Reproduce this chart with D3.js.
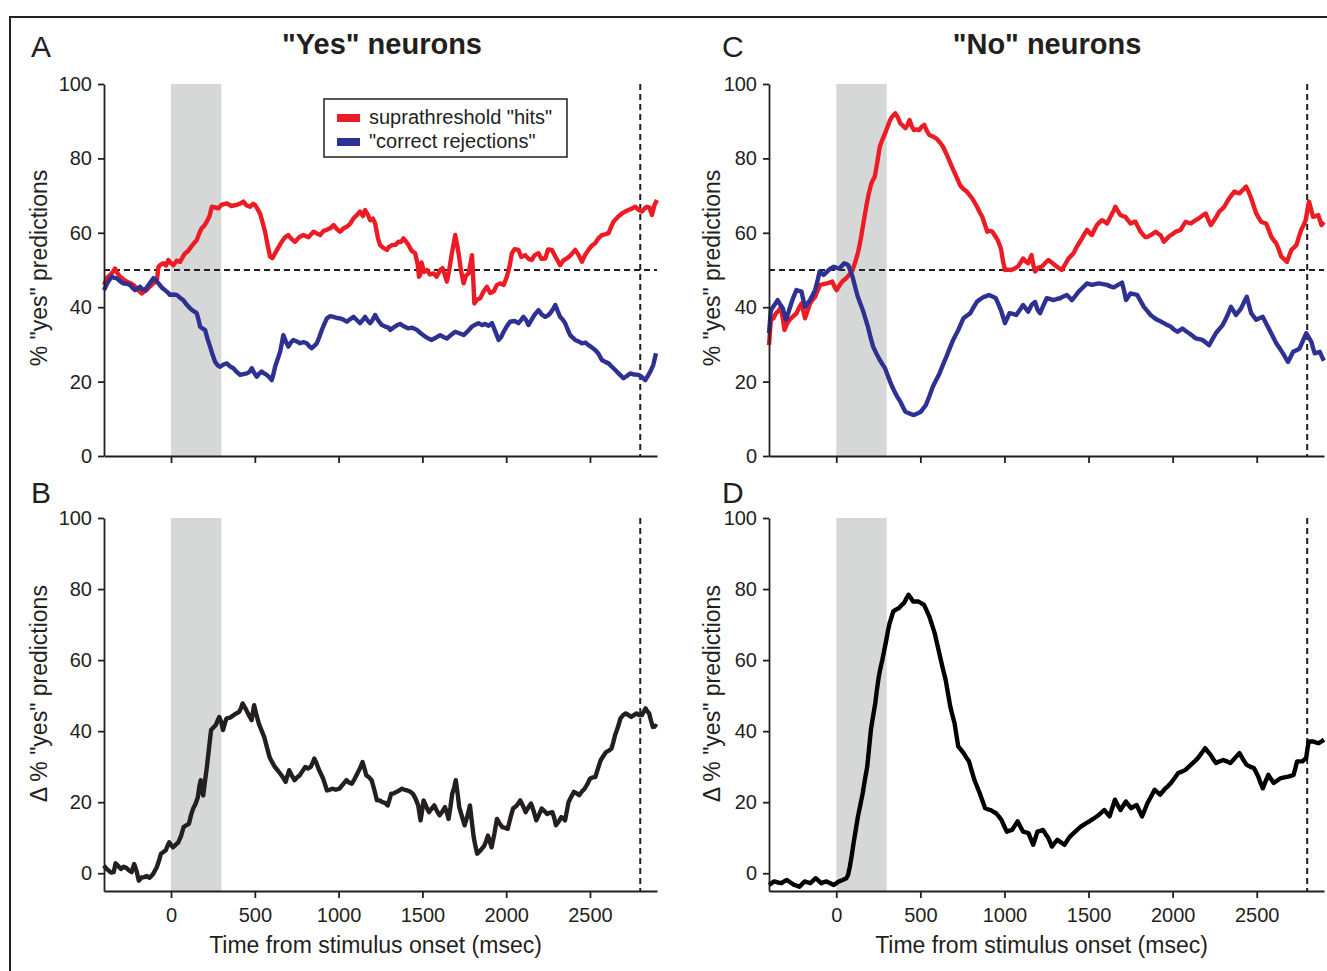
<!DOCTYPE html>
<html>
<head>
<meta charset="utf-8">
<script src="https://cdn.jsdelivr.net/npm/d3@7"></script>
<style>
	body { margin: 0; background: #fff; }
	svg { display: block; font-family: "Liberation Sans", Arial, sans-serif; }
	.axis path, .axis line { stroke: #231f20; stroke-width: 1.8px; }
	.axis text { fill: #231f20; font-size: 20px; font-family: "Liberation Sans", Arial, sans-serif; }
</style>
</head>
<body>
<svg id="fig" width="1327" height="971"></svg>
<script>
const timeTicks = [0, 500, 1000, 1500, 2000, 2500]
const pctTicks = [0, 20, 40, 60, 80, 100]
const stimWindow = [0, 300]
const responseTime = 2800
const chanceLevel = 50
const seriesNames = ['suprathreshold "hits"', '"correct rejections"']

// "Yes" neurons, % "yes" predictions  [time ms, value]
const yesHits = [[-400,46],[-380,48],[-355,49],[-334,50.4],[-318,49],[-304,48.2],[-285,47.5],[-265,46.9],[-245,46.5],[-225,46],[-200,44.8],[-175,43.7],[-160,44.2],[-145,44.6],[-125,45.6],[-107,46.4],[-85,47],[-75,50.9],[-60,51.5],[-46,51.8],[-30,51.2],[-16,52.7],[0,51.8],[14,51.3],[34,52.5],[54,52.2],[70,53.5],[84,54.5],[100,55],[113,55.8],[133,57],[153,58],[170,60],[183,61.2],[200,62],[213,63],[230,64.5],[243,67],[263,66.8],[283,66.6],[300,67.5],[333,67.9],[360,67.2],[392,67.5],[410,67.8],[432,68.4],[450,67.4],[472,67],[490,67.8],[501,67.5],[515,66.5],[531,65.2],[545,63],[561,60.3],[575,57],[591,53.6],[605,53.2],[621,54.5],[640,56],[661,57.6],[680,58.8],[700,59.4],[720,58.3],[740,57.6],[765,58.8],[790,59.4],[820,58.8],[850,60.3],[870,59.8],[890,59.4],[910,60.5],[930,60.8],[950,61.2],[970,62.1],[990,61],[1009,60.3],[1030,61.2],[1049,61.6],[1070,62.5],[1089,63.9],[1110,64.8],[1128,65.7],[1145,64.5],[1158,66.1],[1175,64.8],[1188,63.4],[1205,63.8],[1218,62.5],[1235,58.5],[1248,56.7],[1265,56],[1288,55.4],[1300,56.2],[1318,56.7],[1340,56.8],[1357,57.6],[1372,57.5],[1387,58.5],[1400,57.8],[1417,56.7],[1435,55.2],[1457,54.5],[1472,51.5],[1480,48.2],[1487,48.7],[1495,52],[1510,49.5],[1527,50],[1545,48.8],[1567,49.1],[1585,48.2],[1606,50],[1620,50.5],[1635,48.5],[1646,46.9],[1660,50],[1676,54.5],[1688,57.5],[1696,59.4],[1706,57],[1716,54.5],[1730,50],[1746,46.4],[1760,48.5],[1776,49.1],[1788,52],[1796,54],[1803,48],[1810,41],[1825,42],[1845,42.4],[1865,44.2],[1885,45.5],[1905,43.8],[1925,44.2],[1945,46],[1964,46.4],[1985,46],[2004,48.2],[2020,51],[2034,54.5],[2050,55.6],[2073,55.4],[2090,53.5],[2113,54],[2133,53],[2153,52.7],[2170,54],[2193,54.5],[2210,53],[2233,53.1],[2250,55.5],[2273,55.4],[2295,53.5],[2322,51.3],[2340,52.5],[2362,53.1],[2385,54],[2412,55.4],[2430,54.2],[2452,52.2],[2470,54],[2491,55.4],[2510,56.5],[2531,57.2],[2550,58.5],[2571,59.4],[2590,59.6],[2611,59.9],[2625,61.5],[2641,63],[2665,64.2],[2691,65.2],[2710,65.7],[2730,66.1],[2750,66.5],[2770,67],[2790,66.2],[2810,65.7],[2825,66.5],[2840,67],[2855,66.8],[2870,64.8],[2885,67.5],[2900,68.8]]

const yesRejections = [[-400,44.6],[-380,46.5],[-355,48.2],[-340,47.9],[-325,47.8],[-305,47],[-285,46.4],[-265,46.3],[-245,46],[-230,45.2],[-215,44.6],[-200,45],[-185,45.5],[-170,44.8],[-155,44.6],[-130,46.2],[-105,47.8],[-90,47.2],[-75,46.4],[-55,45.3],[-36,44.6],[-20,44],[-6,43.3],[14,43.4],[34,43.3],[55,42.5],[73,41.9],[93,40.7],[113,39.7],[133,39],[153,38.4],[165,36.5],[173,34.8],[190,34.2],[203,33.9],[218,31.5],[233,29.4],[248,27.2],[263,25.3],[280,24.3],[293,24],[313,24.6],[333,24.9],[352,24.1],[372,23.6],[392,22.6],[412,21.8],[432,22],[452,22.2],[468,22.6],[482,23.6],[497,22.3],[512,21.3],[527,22.2],[541,22.7],[556,22.2],[571,21.8],[586,21.2],[601,20.4],[611,22],[621,24],[636,26],[651,28],[662,30.5],[670,32.5],[685,30.8],[700,29.4],[715,30.5],[730,31.2],[750,30.8],[770,30.3],[790,30.6],[810,30.3],[825,29.5],[840,29],[855,29.6],[870,30.3],[885,32],[900,33.9],[915,35.5],[930,37],[950,37.6],[970,37.4],[990,37.1],[1009,37],[1030,36.6],[1049,36.1],[1070,36.8],[1089,37.4],[1110,36.5],[1128,35.7],[1143,36.5],[1158,37.4],[1173,36.4],[1188,35.7],[1203,36.6],[1218,37.9],[1238,36.3],[1258,35.2],[1278,34.8],[1298,34.5],[1308,33.9],[1330,34.6],[1350,35.2],[1367,35.5],[1392,34.8],[1417,34.3],[1440,34.5],[1467,33.9],[1490,33],[1516,32.1],[1536,31.6],[1556,31.2],[1580,31.8],[1606,32.5],[1626,32],[1646,31.6],[1670,32.5],[1696,33.4],[1720,33],[1746,32.5],[1770,33.5],[1796,34.8],[1815,35.3],[1835,35.7],[1855,35.2],[1875,35.5],[1895,35],[1915,35.7],[1935,33.5],[1955,31.2],[1970,32],[1985,33.4],[2005,35],[2024,36.1],[2050,36.3],[2073,35.7],[2088,36.5],[2103,37.4],[2118,36.6],[2133,35.2],[2150,36.5],[2170,38],[2193,39.2],[2213,38],[2233,37.4],[2250,37.8],[2263,38.4],[2280,39.5],[2293,40.6],[2307,39],[2322,37.4],[2337,36.7],[2352,35.7],[2367,34],[2382,32.5],[2397,31.8],[2412,31.2],[2432,30.8],[2452,30.3],[2472,30.5],[2491,29.8],[2511,29.2],[2531,28.5],[2551,27.5],[2571,25.8],[2591,25.3],[2611,24.9],[2631,24],[2651,23.1],[2675,22],[2700,20.9],[2720,21.5],[2740,22.2],[2765,21.9],[2790,21.8],[2810,21.2],[2830,20.4],[2845,21.5],[2860,22.7],[2878,24.5],[2894,27.6]]

// "Yes" neurons, difference hits - correct rejections
const yesDelta = [[-400,2.2],[-390,1.5],[-374,0.8],[-358,0.2],[-342,0.3],[-331,2.8],[-315,2],[-299,1.2],[-283,1.8],[-267,1.5],[-251,0.8],[-235,0.3],[-220,2.6],[-205,0.5],[-192,-2.1],[-176,-1.2],[-160,-1.1],[-144,-0.8],[-128,-1.3],[-107,-0.2],[-85,1.7],[-72,3.5],[-60,5.5],[-45,6],[-32,6.4],[-20,7.8],[-11,8.7],[0,8],[11,7.3],[27,8],[43,8.7],[60,10.5],[75,13],[91,13.5],[107,13.9],[120,16.5],[132,18.2],[146,19.5],[160,21.4],[169,24.5],[177,26.2],[185,23],[192,21.9],[203,26],[214,29.9],[226,35],[239,40.3],[253,41],[267,41.7],[278,43],[288,44],[300,42.5],[310,40.3],[320,42],[331,43.6],[352,43.8],[374,44.5],[390,45],[406,45.4],[418,46.5],[427,47.8],[443,46.5],[459,45],[470,44],[481,43.1],[489,45.5],[496,47.3],[510,44.5],[524,42.1],[540,40.2],[556,38.4],[572,35.5],[588,32.7],[604,31.2],[620,29.9],[636,29],[652,28],[668,27],[684,25.7],[695,27.5],[705,29],[721,27.5],[737,26.2],[753,27],[769,27.6],[785,28.8],[801,29.9],[817,29.5],[833,29.9],[845,31],[855,32.3],[868,31],[880,29.4],[894,28],[908,26.6],[919,25],[930,23.3],[946,23.5],[962,23.8],[983,23.5],[1004,23.8],[1026,25],[1047,26.2],[1063,25.5],[1079,25.2],[1095,26.5],[1111,28],[1127,29.5],[1143,31.3],[1154,29.5],[1165,27.6],[1181,27],[1197,26.2],[1213,23.5],[1229,20.5],[1245,20.5],[1261,20],[1277,19.8],[1293,19.1],[1304,20.8],[1314,22.4],[1330,22.5],[1346,22.9],[1362,23.3],[1378,23.8],[1394,23.5],[1410,23.3],[1426,23],[1443,22.4],[1459,21],[1475,19.1],[1482,17],[1489,14.9],[1498,17.5],[1507,20.5],[1523,18.8],[1539,17.2],[1555,18.2],[1571,19.1],[1587,17.5],[1603,16.3],[1619,17.4],[1635,18.6],[1646,17],[1656,15.3],[1667,18.5],[1678,22.4],[1689,24],[1699,26.2],[1710,22.5],[1720,18.6],[1736,16],[1752,13.5],[1768,16],[1784,19.1],[1795,14.5],[1806,10.2],[1817,7.5],[1827,5.5],[1848,6.5],[1870,7.8],[1880,9],[1891,10.6],[1902,9],[1913,7.3],[1929,11],[1945,15.3],[1961,14],[1977,13],[1993,12.8],[2009,12.5],[2025,15.5],[2041,18.2],[2062,19],[2084,20.5],[2100,19],[2116,17.2],[2132,18.5],[2148,19.6],[2164,17.5],[2180,14.9],[2196,16.5],[2212,18.2],[2228,17.5],[2244,16.7],[2260,17],[2276,17.2],[2287,15.5],[2297,13.5],[2313,14.5],[2329,15.8],[2340,15.5],[2351,14.9],[2362,17.5],[2372,20],[2388,21.5],[2404,22.9],[2420,22.5],[2436,22],[2452,23],[2468,23.8],[2484,25],[2500,26.6],[2516,27],[2532,27.1],[2548,29.5],[2564,31.8],[2580,33],[2596,34.1],[2612,34.5],[2628,35.1],[2640,37],[2650,38.9],[2666,41],[2682,43.6],[2698,44.5],[2714,45],[2730,44.5],[2746,44],[2762,44.5],[2778,45],[2794,44.5],[2810,44.5],[2821,45.5],[2832,46.4],[2843,45.5],[2853,45],[2864,43],[2875,41.2],[2890,41.5],[2900,41.2]]

// "No" neurons, % "yes" predictions
const noHits = [[-400,29.8],[-389,36.6],[-374,37],[-359,38.3],[-344,39],[-328,40.1],[-318,37],[-308,33.9],[-293,35.5],[-278,36.6],[-258,37.5],[-237,38.3],[-222,39.8],[-207,41],[-196,39],[-186,37],[-171,39],[-156,41],[-141,42],[-126,42.8],[-110,44.5],[-95,46],[-75,46.2],[-55,46.4],[-40,46.6],[-24,46.9],[-10,45.5],[2,44.6],[18,45.8],[36,46.9],[52,47.5],[67,48.2],[82,49],[97,50],[112,52],[128,54.5],[138,56.5],[148,59],[163,63],[178,67],[193,70.5],[209,73.3],[219,74.3],[229,75.1],[244,79],[259,83.2],[274,85],[290,86.7],[305,88.5],[320,90.3],[335,91.4],[351,92.1],[366,91],[381,89.4],[396,88.8],[411,88.1],[424,89],[436,90.3],[450,88.5],[462,87.6],[478,87.8],[493,87.6],[508,88.5],[523,89],[538,87.5],[553,86.3],[574,85.9],[594,85.4],[614,84.4],[634,83.2],[655,81.2],[675,79.1],[690,77.5],[705,76],[720,74.5],[736,72.8],[756,71.8],[776,71.1],[792,70.2],[807,69.3],[822,68.2],[837,67],[852,65.6],[868,64.3],[883,62.3],[898,60.3],[913,60.5],[928,60.3],[944,59.2],[959,58.1],[969,57],[979,55.8],[991,52.5],[1003,50],[1020,50.1],[1040,50],[1060,50.4],[1080,50.9],[1096,52],[1111,53.1],[1126,52.3],[1141,51.8],[1151,53],[1161,54],[1171,51.5],[1182,49.6],[1200,50.6],[1222,50.9],[1241,51.8],[1261,52.7],[1281,52],[1301,51.3],[1321,50.6],[1341,50],[1361,51.5],[1381,53.1],[1396,53.8],[1411,54.5],[1431,56.3],[1446,57.4],[1461,58.5],[1476,59.7],[1491,60.8],[1505,60],[1520,59.4],[1535,60.8],[1550,62.1],[1565,62.8],[1580,63.4],[1595,63],[1610,62.5],[1625,63.8],[1640,65.2],[1650,66],[1660,67],[1675,65.8],[1689,64.8],[1704,64.5],[1719,64.3],[1734,63.4],[1749,62.5],[1764,62.8],[1779,63],[1794,61.6],[1809,60.3],[1824,59.5],[1839,58.8],[1854,59],[1869,59.4],[1884,59.8],[1899,60.3],[1913,59.8],[1928,59.4],[1938,58.5],[1948,57.6],[1963,58.3],[1978,59],[1998,59.6],[2018,60.3],[2033,60.5],[2048,60.8],[2063,62],[2078,63],[2093,62.7],[2108,62.5],[2123,63],[2138,63.4],[2153,63.8],[2168,64.3],[2183,64.8],[2197,65.2],[2212,63.5],[2227,62.1],[2237,62.7],[2247,63.4],[2262,64.5],[2277,65.7],[2292,66.3],[2307,67],[2322,68.2],[2337,69.3],[2352,70.2],[2367,71.1],[2382,70.8],[2397,70.6],[2417,71.5],[2437,72.4],[2452,71],[2467,69.3],[2482,67.2],[2497,65.2],[2512,64],[2526,63],[2541,62.7],[2556,62.5],[2571,60.8],[2586,59],[2601,58],[2616,57.2],[2631,55.5],[2646,53.6],[2663,52.9],[2680,52.2],[2693,53.8],[2706,55.4],[2721,56],[2736,56.7],[2750,58.8],[2765,60.8],[2778,62],[2791,63.4],[2801,66],[2811,68.4],[2823,66.3],[2835,64.3],[2850,64.5],[2865,64.8],[2875,63.5],[2885,62.1],[2900,62.9]]

const noRejections = [[-400,33],[-389,39.2],[-369,40.5],[-349,41.9],[-334,40.8],[-318,39.7],[-308,38],[-298,36.6],[-283,38.8],[-268,41],[-252,43],[-237,44.6],[-222,44.4],[-207,44.2],[-196,42],[-186,40.1],[-171,41],[-156,41.9],[-141,43.2],[-126,44.6],[-112,47],[-99,49.6],[-87,49.2],[-75,48.7],[-60,49.3],[-45,50],[-30,50.5],[-14,50.9],[1,50.6],[16,50.4],[31,51],[47,51.8],[59,51.6],[71,51.3],[84,49.8],[97,48.2],[112,45.5],[128,42.8],[143,41],[158,39.2],[173,37],[188,34.8],[203,32],[219,29.4],[239,27.5],[259,25.8],[274,24.7],[290,23.6],[305,21.8],[320,20],[335,18.4],[351,16.9],[366,15.7],[381,14.6],[396,13.2],[411,11.9],[436,11.4],[462,11],[482,11.4],[503,11.9],[518,12.8],[533,13.7],[553,16],[574,18.6],[594,20.4],[614,22.2],[634,24.5],[655,26.7],[675,29],[695,31.2],[710,32.5],[726,33.9],[741,35.5],[756,37],[776,37.7],[797,38.4],[817,40],[837,41.5],[858,42.2],[878,42.8],[893,43],[908,43.3],[928,42.9],[949,42.4],[964,40.8],[979,39.2],[991,37.5],[1003,35.7],[1016,37],[1030,38.4],[1050,38.2],[1070,37.9],[1090,39.2],[1111,40.6],[1126,39.7],[1141,38.8],[1161,40.6],[1182,41.4],[1197,39.3],[1212,38.4],[1231,40.4],[1251,42.4],[1271,42.2],[1291,41.9],[1311,42.2],[1331,42.4],[1351,42.9],[1371,43.3],[1386,42.6],[1401,41.9],[1421,43],[1441,44.2],[1466,45.3],[1491,46.4],[1505,46.2],[1520,46],[1540,46.2],[1560,46.4],[1585,46.2],[1610,46],[1630,45.6],[1650,45.3],[1675,46],[1699,46.6],[1711,44.5],[1723,41.9],[1736,42.8],[1749,43.7],[1769,43.5],[1789,43.3],[1809,41.7],[1829,40.1],[1849,39],[1869,37.9],[1889,37.2],[1908,36.6],[1928,36.2],[1948,35.7],[1968,35.2],[1988,34.8],[2008,34],[2028,33.4],[2043,33.8],[2058,34.3],[2078,33.6],[2098,33],[2118,32.3],[2138,31.6],[2158,31.4],[2178,31.2],[2197,30.5],[2217,29.8],[2237,31.4],[2257,33],[2277,34.1],[2297,35.2],[2312,36.5],[2327,37.9],[2337,39],[2347,40.1],[2362,39],[2377,37.9],[2392,38.8],[2407,39.7],[2424,41.3],[2441,42.8],[2454,40.6],[2467,38.4],[2482,37.5],[2497,36.6],[2516,37],[2536,37.4],[2556,35.6],[2576,33.9],[2596,32.1],[2616,30.3],[2636,29],[2656,27.6],[2671,26.4],[2686,25.3],[2701,26.6],[2716,28],[2736,28.4],[2755,28.9],[2775,31],[2795,33],[2810,31.8],[2825,30.7],[2835,29],[2845,27.6],[2860,27.8],[2875,28],[2887,26.8],[2899,25.6]]

// "No" neurons, difference
const noDelta = [[-400,-3.3],[-385,-2.8],[-369,-2.3],[-348,-2.6],[-326,-2.8],[-310,-2.3],[-294,-1.9],[-272,-2.6],[-251,-3.3],[-235,-3.5],[-219,-3.8],[-203,-3],[-187,-2.3],[-170,-2.6],[-154,-2.8],[-138,-2.1],[-122,-1.4],[-106,-2.1],[-90,-2.8],[-74,-2.5],[-58,-2.3],[-36,-2.8],[-15,-3.3],[1,-2.8],[17,-2.3],[38,-1.9],[60,-1.4],[70,-0.5],[81,1.9],[92,5],[103,8.5],[116,12.3],[129,16],[143,19.2],[157,22.5],[170,26.3],[184,30],[195,35.2],[206,40.4],[219,44.2],[232,47.9],[242,51.7],[253,55.4],[263,57.8],[274,60.1],[285,62.7],[296,65.3],[306,67.9],[317,70.4],[328,72],[339,73.7],[355,74.2],[371,74.6],[387,75.4],[403,76.1],[416,77.3],[429,78.4],[443,77.5],[457,76.5],[473,76.5],[489,76.5],[505,76],[521,75.6],[537,74],[553,72.3],[569,70],[585,67.6],[601,64.3],[617,61],[633,57.7],[650,54.5],[664,50.7],[678,46.9],[690,44.6],[703,42.3],[714,39],[725,35.7],[741,34.8],[757,33.8],[773,32.6],[789,31.5],[805,28.9],[821,26.3],[837,24.4],[853,22.5],[869,20.4],[885,18.3],[902,18],[918,17.8],[934,17.3],[950,16.9],[966,16],[982,15],[998,13.3],[1014,11.7],[1030,12],[1046,12.2],[1062,13.4],[1078,14.6],[1095,13.1],[1111,11.7],[1127,11.5],[1143,11.3],[1157,9.6],[1171,8],[1184,9.9],[1196,11.7],[1213,11.9],[1229,12.2],[1245,11],[1261,9.9],[1272,8.7],[1282,7.5],[1298,8.5],[1314,9.4],[1336,8.7],[1357,8],[1373,9.2],[1389,10.3],[1405,11],[1421,11.7],[1437,12.4],[1454,13.1],[1470,13.6],[1486,14.1],[1502,14.5],[1518,15],[1540,15.7],[1561,16.4],[1577,17.1],[1593,17.8],[1609,16.9],[1625,16],[1641,18.4],[1657,20.7],[1673,19.2],[1690,17.8],[1706,19],[1722,20.2],[1738,19.2],[1754,18.3],[1770,18.8],[1786,19.2],[1802,17.6],[1818,16],[1834,17.8],[1850,19.7],[1872,21.6],[1893,23.5],[1909,22.8],[1925,22.1],[1941,23],[1958,23.9],[1974,24.6],[1990,25.4],[2012,26.8],[2033,28.2],[2055,28.6],[2076,29.1],[2092,29.8],[2108,30.5],[2129,31.4],[2150,32.4],[2172,33.8],[2193,35.2],[2210,34.2],[2226,33.3],[2242,32.1],[2258,31],[2280,31.5],[2301,31.9],[2322,31.5],[2343,31],[2370,32.4],[2397,33.8],[2418,32.1],[2440,30.5],[2462,30],[2483,29.6],[2496,28.4],[2509,27.2],[2522,25.5],[2536,23.9],[2552,25.8],[2569,27.7],[2585,26.5],[2601,25.4],[2622,26.1],[2644,26.8],[2665,27],[2687,27.2],[2703,27.4],[2719,27.7],[2730,29.6],[2740,31.5],[2756,31.5],[2772,31.5],[2783,32],[2794,32.4],[2801,34.8],[2809,37.1],[2823,37.1],[2837,37.1],[2853,36.8],[2869,36.6],[2885,37.1],[2900,37.6]]

const red = '#ed1c24', blue = '#2e3192', ink = '#231f20'
const svg = d3.select('#fig')

// outer frame (only top and left edges are visible)
svg.append('path')
	.attr('d', 'M10,971V17H1327')
	.attr('fill', 'none')
	.attr('stroke', ink)
	.attr('stroke-width', 2)

function drawPanel(p) {
	const x = d3.scaleLinear().domain([-400, 2900]).range([p.left, p.right])
	const y = d3.scaleLinear().domain(p.yDomain).range([p.bottom, p.top])
	const g = svg.append('g')

	// stimulus window
	g.append('rect')
		.attr('x', x(stimWindow[0]))
		.attr('y', y(100))
		.attr('width', x(stimWindow[1]) - x(stimWindow[0]))
		.attr('height', y(p.yDomain[0]) - y(100))
		.attr('fill', '#d6d8d8')

	if (p.chance) {
		g.append('line')
			.attr('x1', x(-400)).attr('x2', x(2900))
			.attr('y1', y(chanceLevel)).attr('y2', y(chanceLevel))
			.attr('stroke', ink).attr('stroke-width', 2)
			.attr('stroke-dasharray', '6,4')
	}

	g.append('line')
		.attr('x1', x(responseTime)).attr('x2', x(responseTime))
		.attr('y1', y(100)).attr('y2', y(p.yDomain[0]))
		.attr('stroke', ink).attr('stroke-width', 2)
		.attr('stroke-dasharray', '6,4')

	const line = d3.line()
		.x(d => x(d[0]))
		.y(d => y(d[1]))

	p.series.forEach(s => {
		g.append('path')
			.datum(s.data)
			.attr('d', line)
			.attr('fill', 'none')
			.attr('stroke', s.color)
			.attr('stroke-width', 4.4)
			.attr('stroke-linejoin', 'round')
	})

	g.append('g')
		.attr('class', 'axis')
		.attr('transform', 'translate(0,' + p.bottom + ')')
		.call(d3.axisBottom(x).tickValues(timeTicks).tickSize(7).tickSizeOuter(0).tickPadding(10)
			.tickFormat(p.xLabels ? d3.format('d') : ''))

	g.append('g')
		.attr('class', 'axis')
		.attr('transform', 'translate(' + p.left + ',0)')
		.call(d3.axisLeft(y).tickValues(pctTicks).tickSize(6).tickSizeOuter(0).tickPadding(6))

	// y axis title
	g.append('text')
		.attr('transform', 'translate(' + p.titleYX + ',' + ((y(100) + y(0)) / 2 - 2) + ') rotate(-90)')
		.attr('text-anchor', 'middle')
		.attr('fill', ink)
		.style('font-size', '23px')
		.text(p.yTitle)

	if (p.xLabels) {
		g.append('text')
			.attr('x', (p.left + p.right) / 2 - 5)
			.attr('y', 953)
			.attr('text-anchor', 'middle')
			.attr('fill', ink)
			.style('font-size', '23px')
			.text('Time from stimulus onset (msec)')
	}

	g.append('text')
		.attr('x', p.letterX)
		.attr('y', p.letterY)
		.attr('fill', ink)
		.style('font-size', '30px')
		.text(p.letter)

	if (p.title) {
		g.append('text')
			.attr('x', p.titleX)
			.attr('y', 54)
			.attr('text-anchor', 'middle')
			.attr('fill', ink)
			.style('font-size', '29px')
			.style('font-weight', 'bold')
			.text(p.title)
	}
	return g
}

const panelA = drawPanel({
	left: 104, right: 657, top: 84, bottom: 456, yDomain: [0, 100],
	chance: true, xLabels: false, letter: 'A', letterX: 31, letterY: 57,
	title: '"Yes" neurons', titleX: 382, yTitle: '% "yes" predictions', titleYX: 47,
	series: [{ data: yesHits, color: red }, { data: yesRejections, color: blue }]
})

drawPanel({
	left: 104, right: 657, top: 518, bottom: 891, yDomain: [-5, 100],
	chance: false, xLabels: true, letter: 'B', letterX: 31, letterY: 503,
	yTitle: 'Δ % "yes" predictions', titleYX: 47,
	series: [{ data: yesDelta, color: ink }]
})

drawPanel({
	left: 769, right: 1324, top: 84, bottom: 456, yDomain: [0, 100],
	chance: true, xLabels: false, letter: 'C', letterX: 722, letterY: 57,
	title: '"No" neurons', titleX: 1047, yTitle: '% "yes" predictions', titleYX: 720,
	series: [{ data: noHits, color: red }, { data: noRejections, color: blue }]
})

drawPanel({
	left: 769, right: 1324, top: 518, bottom: 891, yDomain: [-5, 100],
	chance: false, xLabels: true, letter: 'D', letterX: 722, letterY: 503,
	yTitle: 'Δ % "yes" predictions', titleYX: 720,
	series: [{ data: noDelta, color: '#000' }]
})

// legend in panel A
const legend = panelA.append('g').attr('transform', 'translate(324,99)')
legend.append('rect')
	.attr('width', 243).attr('height', 58)
	.attr('fill', '#fff').attr('stroke', ink).attr('stroke-width', 1.5)
legend.selectAll('.item')
	.data(seriesNames)
	.join('g')
	.attr('transform', (d, i) => 'translate(13,' + (15 + i * 24) + ')')
	.each(function (d, i) {
		const item = d3.select(this)
		item.append('rect').attr('width', 23).attr('height', 8).attr('fill', [red, blue][i])
		item.append('text').attr('x', 32).attr('y', 10).attr('fill', ink)
			.style('font-size', '20px').text(d)
	})
</script>
</body>
</html>
